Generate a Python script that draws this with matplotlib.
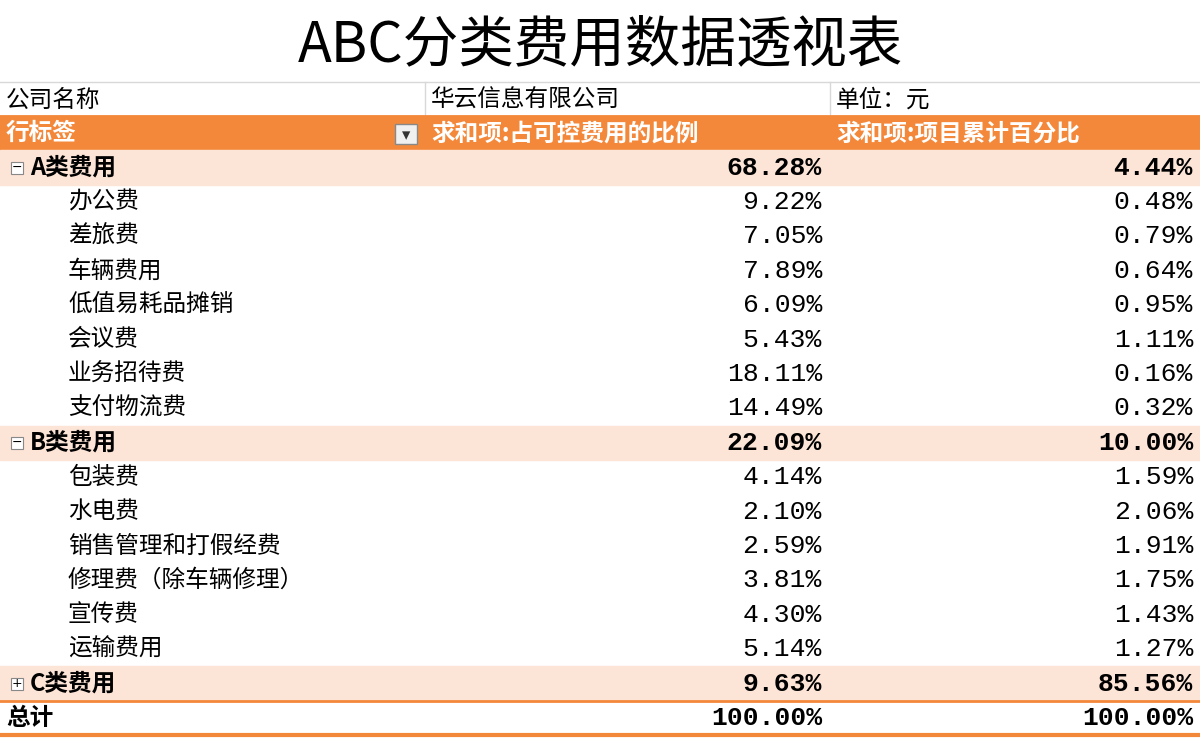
import matplotlib.pyplot as plt
from matplotlib.patches import Rectangle

plt.rcParams['font.family'] = ['Noto Sans CJK SC', 'DejaVu Sans']

title = "ABC分类费用数据透视表"
company_label = "公司名称"
company_name = "华云信息有限公司"
unit_label = "单位：元"
headers = ["行标签", "求和项:占可控费用的比例", "求和项:项目累计百分比"]

row_labels = ["A类费用", "办公费", "差旅费", "车辆费用", "低值易耗品摊销", "会议费", "业务招待费", "支付物流费",
              "B类费用", "包装费", "水电费", "销售管理和打假经费", "修理费（除车辆修理）", "宣传费", "运输费用",
              "C类费用"]
is_group = [True, False, False, False, False, False, False, False,
            True, False, False, False, False, False, False, True]
ratio = ["68.28%", "9.22%", "7.05%", "7.89%", "6.09%", "5.43%", "18.11%", "14.49%",
         "22.09%", "4.14%", "2.10%", "2.59%", "3.81%", "4.30%", "5.14%", "9.63%"]
cum_pct = ["4.44%", "0.48%", "0.79%", "0.64%", "0.95%", "1.11%", "0.16%", "0.32%",
           "10.00%", "1.59%", "2.06%", "1.91%", "1.75%", "1.43%", "1.27%", "85.56%"]
total = ["总计", "100.00%", "100.00%"]

ORANGE = "#F4883A"
PEACH = "#FCE4D6"
NUM_FONT = ['Liberation Mono', 'DejaVu Sans Mono']

fig = plt.figure(figsize=(12, 7.44), dpi=100)
ax = fig.add_axes([0, 0, 1, 1])
ax.set_xlim(0, 1200)
ax.set_ylim(744, 0)
ax.axis('off')

col_x = [0, 425, 830, 1200]
fs = 17
nfs = 19

ax.text(600, 45, title, ha='center', va='center', fontsize=40, color='black')

# company row
top = 82
rh = 34.4
ax.plot([0, 1200], [top, top], color='#d8d8d8', lw=1)
for x in col_x[1:3]:
    ax.plot([x, x], [top, top + 33], color='#d8d8d8', lw=1)
for x, s in zip(col_x[:3], [company_label, company_name, unit_label]):
    ax.text(x + 6, top + 18, s, ha='left', va='center', fontsize=fs)

# header
hy = 116
ax.add_patch(Rectangle((0, hy), 1200, rh, color=ORANGE))
ax.plot([0, 1200], [hy, hy], color=ORANGE, lw=2)
for x, s in zip(col_x[:3], headers):
    ax.text(x + 6, hy + rh / 2, s, ha='left', va='center', fontsize=fs, color='white', fontweight='bold')
ax.add_patch(Rectangle((395, hy + 8), 22, 20, facecolor='#f0f0f0', edgecolor='#888888'))
ax.text(406, hy + 19, "▾", ha='center', va='center', fontsize=12, color='#333333', family='DejaVu Sans')

# body rows
y0 = hy + rh
for i, (lab, g, r, c) in enumerate(zip(row_labels, is_group, ratio, cum_pct)):
    y = y0 + i * rh
    cy = y + rh / 2
    w = 'bold' if g else 'normal'
    if g:
        ax.add_patch(Rectangle((0, y), 1200, rh, color=PEACH))
        ax.add_patch(Rectangle((11, cy - 6), 12, 12, facecolor='white', edgecolor='#888888', lw=0.8))
        ax.text(17, cy, "+" if lab.startswith("C") else "−", ha='center', va='center',
                fontsize=9, family='DejaVu Sans')
        ax.text(30, cy, lab, ha='left', va='center', fontsize=fs, fontweight=w)
    else:
        ax.text(68, cy, lab, ha='left', va='center', fontsize=fs)
    ax.text(822, cy, r, ha='right', va='center', fontsize=nfs, fontweight=w, family=NUM_FONT)
    ax.text(1193, cy, c, ha='right', va='center', fontsize=nfs, fontweight=w, family=NUM_FONT)

# total row
ty = y0 + len(row_labels) * rh
ax.plot([0, 1200], [ty, ty], color=ORANGE, lw=2)
ax.plot([0, 1200], [ty + rh, ty + rh], color=ORANGE, lw=3)
ax.text(6, ty + rh / 2, total[0], ha='left', va='center', fontsize=fs, fontweight='bold')
ax.text(822, ty + rh / 2, total[1], ha='right', va='center', fontsize=nfs, fontweight='bold', family=NUM_FONT)
ax.text(1193, ty + rh / 2, total[2], ha='right', va='center', fontsize=nfs, fontweight='bold', family=NUM_FONT)

fig.savefig("out.png", dpi=100)
